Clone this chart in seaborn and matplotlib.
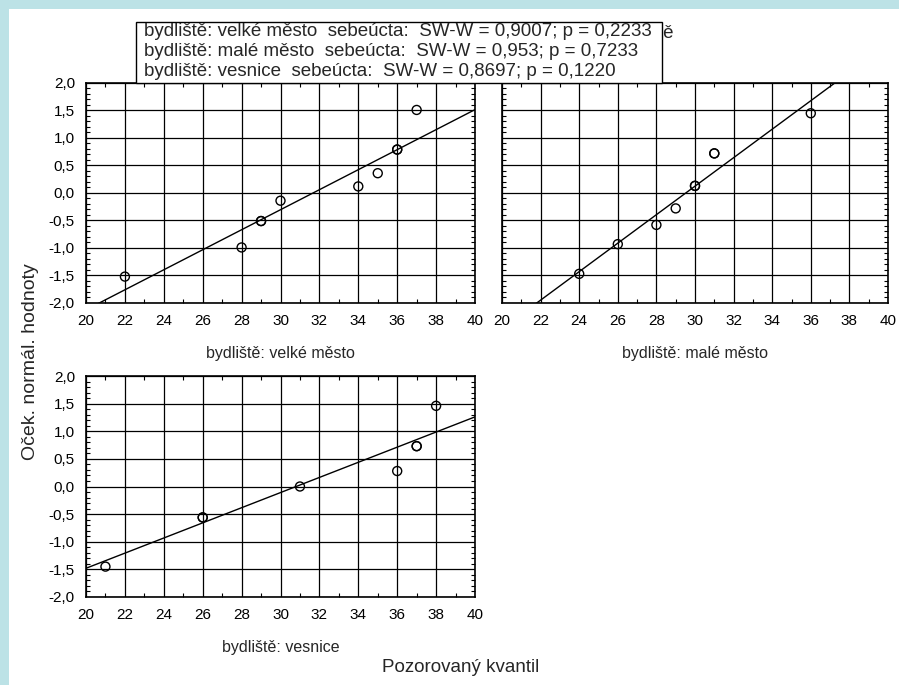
import numpy as np
import pandas as pd
import matplotlib
matplotlib.use("Agg")
import matplotlib.pyplot as plt
from matplotlib.patches import Rectangle
from matplotlib.ticker import FuncFormatter, MultipleLocator
import seaborn as sns

# observed quantile vs expected normal value, per place of residence
velke_x = [22, 28, 29, 29, 30, 34, 35, 36, 36, 37]
velke_y = [-1.52, -0.99, -0.51, -0.51, -0.14, 0.12, 0.36, 0.79, 0.79, 1.51]
male_x = [24, 26, 28, 29, 30, 30, 31, 31, 36]
male_y = [-1.47, -0.93, -0.58, -0.28, 0.13, 0.13, 0.72, 0.72, 1.45]
vesnice_x = [21, 26, 26, 31, 36, 37, 37, 38]
vesnice_y = [-1.45, -0.56, -0.56, 0.0, 0.28, 0.73, 0.73, 1.46]

# fitted line: value at x = 20 and slope
fit_y20 = [-2.124, -2.466, -1.48]
fit_slope = [0.182, 0.259, 0.137]

panel_labels = ["bydliště: velké město", "bydliště: malé město", "bydliště: vesnice"]
legend_lines = [
    "bydliště: velké město  sebeúcta:  SW-W = 0,9007; p = 0,2233",
    "bydliště: malé město  sebeúcta:  SW-W = 0,953; p = 0,7233",
    "bydliště: vesnice  sebeúcta:  SW-W = 0,8697; p = 0,1220",
]
title_text = "Normální p-graf: sebeúcta; kategorizováno: bydliště"

sns.set_style("white")
plt.rcParams["font.family"] = ["Liberation Sans", "DejaVu Sans"]

W, H = 899, 685
fig = plt.figure(figsize=(W / 100, H / 100), dpi=100, facecolor="#BCE2E6")
fig.patches.append(Rectangle((9 / W, 0), 1, 1 - 9 / H, transform=fig.transFigure,
                             facecolor="white", edgecolor="none", zorder=-10))


def px_axes(left, top, right, bottom):
    return fig.add_axes([left / W, 1 - bottom / H, (right - left) / W, (bottom - top) / H])


def comma(v, pos):
    return f"{v:.1f}".replace(".", ",")


panels = [
    (px_axes(86, 83, 475, 303), velke_x, velke_y),
    (px_axes(502, 83, 888, 303), male_x, male_y),
    (px_axes(86, 376, 475, 597), vesnice_x, vesnice_y),
]

for i, (ax, xs, ys) in enumerate(panels):
    df = pd.DataFrame({"x": xs, "y": ys})
    sns.scatterplot(data=df, x="x", y="y", ax=ax, s=42, marker="o",
                    facecolor="none", edgecolor="black", linewidth=1.0, zorder=4)
    lx = np.array([20, 40])
    line = pd.DataFrame({"x": lx, "y": fit_y20[i] + fit_slope[i] * (lx - 20)})
    sns.lineplot(data=line, x="x", y="y", ax=ax, color="black", linewidth=1.0, zorder=3)

    ax.set_xlim(20, 40)
    ax.set_ylim(-2, 2)
    ax.xaxis.set_major_locator(MultipleLocator(2))
    ax.xaxis.set_minor_locator(MultipleLocator(1))
    ax.yaxis.set_major_locator(MultipleLocator(0.5))
    ax.yaxis.set_minor_locator(MultipleLocator(0.1))
    ax.yaxis.set_major_formatter(FuncFormatter(comma))
    ax.grid(True, which="major", color="black", linewidth=0.9)
    ax.tick_params(which="both", direction="in", top=True, right=True,
                   bottom=True, left=True, labelsize=11, colors="black")
    ax.tick_params(which="major", length=0, pad=8)
    ax.tick_params(which="minor", length=3, width=0.8)
    for sp in ax.spines.values():
        sp.set_color("black")
        sp.set_linewidth(1.2)
    ax.set_ylabel("")
    ax.set_xlabel(panel_labels[i], fontsize=11.5, labelpad=13)
    if i == 1:
        ax.set_yticklabels([])

fig.text(31 / W, 1 - 362 / H, "Oček. normál. hodnoty", rotation=90,
         ha="center", va="center", fontsize=14)
fig.text(461 / W, 1 - 668 / H, "Pozorovaný kvantil", ha="center", va="center", fontsize=13.5)

# title partly hidden behind the statistics box
fig.text(674 / W, 1 - 33 / H, title_text, ha="right", va="center", fontsize=13.5, zorder=1)
fig.patches.append(Rectangle((136 / W, 1 - 83 / H), 526 / W, 61 / H, transform=fig.transFigure,
                             facecolor="white", edgecolor="black", linewidth=1.0, zorder=2))
for k, txt in enumerate(legend_lines):
    fig.text(144 / W, 1 - (32 + 20 * k) / H, txt, ha="left", va="center",
             fontsize=13.5, zorder=3)

fig.savefig("out.png", dpi=100, facecolor=fig.get_facecolor())
